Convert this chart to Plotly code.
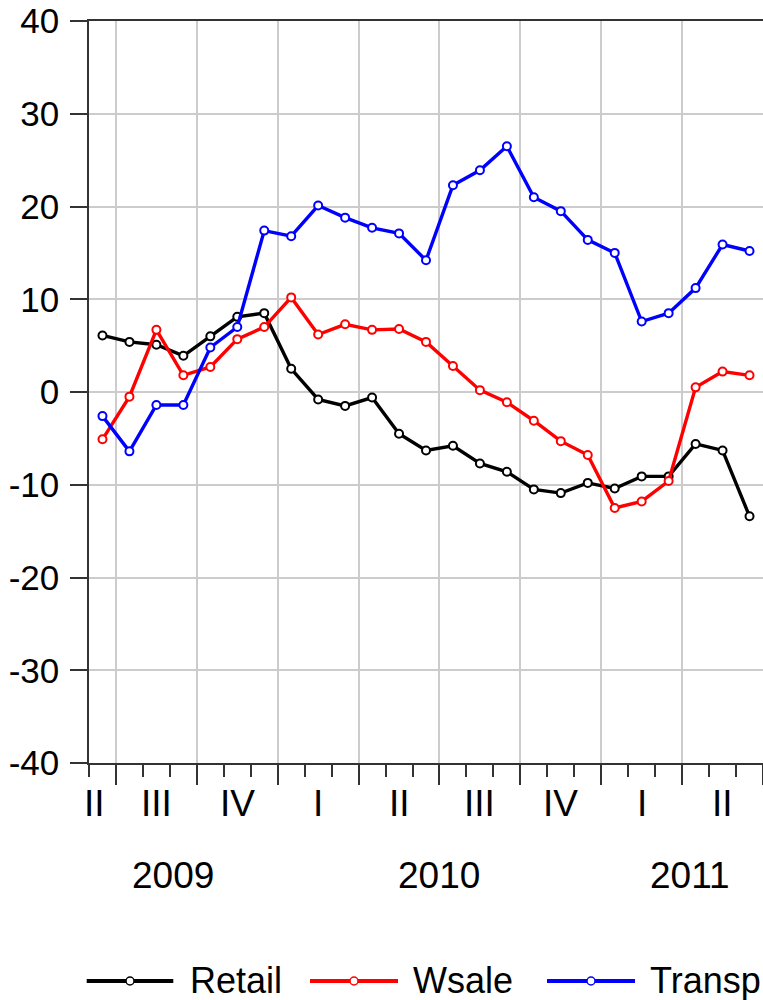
import plotly.graph_objects as go

# ---- data (monthly, Jun 2009 .. Jun 2011) ----
months = ["2009-06", "2009-07", "2009-08", "2009-09", "2009-10", "2009-11", "2009-12",
          "2010-01", "2010-02", "2010-03", "2010-04", "2010-05", "2010-06",
          "2010-07", "2010-08", "2010-09", "2010-10", "2010-11", "2010-12",
          "2011-01", "2011-02", "2011-03", "2011-04", "2011-05", "2011-06"]

retail = [6.1, 5.4, 5.1, 3.9, 6.0, 8.1, 8.5, 2.5, -0.8, -1.5, -0.6, -4.5, -6.3,
          -5.8, -7.7, -8.6, -10.5, -10.9, -9.8, -10.4, -9.1, -9.1, -5.6, -6.3, -13.4]
wsale = [-5.1, -0.5, 6.7, 1.8, 2.7, 5.7, 7.0, 10.2, 6.2, 7.3, 6.7, 6.8, 5.4,
         2.8, 0.2, -1.1, -3.1, -5.3, -6.8, -12.5, -11.8, -9.6, 0.5, 2.2, 1.8]
transp = [-2.6, -6.4, -1.4, -1.4, 4.8, 7.0, 17.4, 16.8, 20.1, 18.8, 17.7, 17.1, 14.2,
          22.3, 23.9, 26.5, 21.0, 19.5, 16.4, 15.0, 7.6, 8.5, 11.2, 15.9, 15.2]

series_names = ["Retail", "Wsale", "Transp"]
series_colors = ["#000000", "#ff0000", "#0000ff"]

quarter_labels = ["II", "III", "IV", "I", "II", "III", "IV", "I", "II"]
quarter_pos = [-0.28, 2, 5, 8, 11, 14, 17, 20, 23]
quarter_bounds = [0.5, 3.5, 6.5, 9.5, 12.5, 15.5, 18.5, 21.5, 24.5]
year_labels = ["2009", "2010", "2011"]
year_pos = [2.6, 12.5, 21.8]

y_ticks = [-40, -30, -20, -10, 0, 10, 20, 30, 40]

x = list(range(len(months)))

fig = go.Figure()
for name, vals, col in zip(series_names, [retail, wsale, transp], series_colors):
    fig.add_trace(go.Scatter(
        x=x, y=vals, name=name, mode="lines+markers", showlegend=False,
        customdata=months,
        line=dict(color=col, width=3.4),
        marker=dict(symbol="circle", size=8, color="white",
                    line=dict(color=col, width=2)),
        cliponaxis=False,
    ))

OFF = 0  # page body margin removed by post_script below
W, H = 763 - OFF, 1000 - OFF
L, T = 89 - OFF, 21 - OFF
PLOT_W, PLOT_H = 674, 742
R = W - L - PLOT_W
B = H - T - PLOT_H


def px_x(p):
    """page pixel x -> paper fraction"""
    return (p - OFF - L) / PLOT_W


def px_y(p):
    """page pixel y -> paper fraction"""
    return (T + PLOT_H - (p - OFF)) / PLOT_H


FONT = "Liberation Sans, Arial, sans-serif"
axis_col = "#333333"
grid_col = "#cccccc"

fig.update_layout(
    width=W, height=H,
    margin=dict(l=L, r=R, t=T, b=B, pad=0, autoexpand=False),
    paper_bgcolor="white", plot_bgcolor="white",
    font=dict(family=FONT, color="#000000"),
    xaxis=dict(
        range=[-0.5, 24.5], tickmode="array", tickvals=quarter_bounds,
        showticklabels=False, ticks="outside", ticklen=20, tickwidth=1.5,
        tickcolor=axis_col, showgrid=True, gridcolor=grid_col, gridwidth=1.5,
        zeroline=False, showline=True, linecolor=axis_col, linewidth=1.5,
        mirror=True, automargin=False,
        minor=dict(tickmode="linear", tick0=-0.5, dtick=1, ticks="outside",
                   ticklen=12, tickwidth=1.5, tickcolor=axis_col, showgrid=False),
    ),
    yaxis=dict(
        range=[-40, 40], tickmode="array", tickvals=y_ticks,
        ticktext=[str(v) for v in y_ticks],
        ticks="outside", ticklen=17, tickwidth=1.5, tickcolor=axis_col,
        tickfont=dict(size=35, family=FONT, color="#000000"),
        ticklabelstandoff=4, ticklabeloverflow="allow", automargin=False,
        showgrid=True, gridcolor=grid_col, gridwidth=1.5,
        zeroline=False, showline=True, linecolor=axis_col, linewidth=1.5,
    ),
)

annotations = []
for lab, pos in zip(quarter_labels, quarter_pos):
    annotations.append(dict(x=pos, y=px_y(803.5), xref="x", yref="paper",
                            text=lab, showarrow=False, xanchor="center",
                            yanchor="middle",
                            font=dict(size=37, family=FONT, color="#000000")))
for lab, pos in zip(year_labels, year_pos):
    annotations.append(dict(x=pos, y=px_y(875), xref="x", yref="paper",
                            text=lab, showarrow=False, xanchor="center",
                            yanchor="middle",
                            font=dict(size=37, family=FONT, color="#000000")))

# custom legend (long line samples with a small open circle)
legend_line_px = [(86.7, 173.3), (310, 398), (547, 635)]
legend_text_px = [188, 411, 648]
leg_y = 981
shapes = []
for (a, b), tx, name, col in zip(legend_line_px, legend_text_px, series_names, series_colors):
    shapes.append(dict(type="line", xref="paper", yref="paper",
                       x0=px_x(a), x1=px_x(b), y0=px_y(leg_y), y1=px_y(leg_y),
                       line=dict(color=col, width=4)))
    c = (a + b) / 2
    shapes.append(dict(type="circle", xref="paper", yref="paper",
                       x0=px_x(c - 4), x1=px_x(c + 4),
                       y0=px_y(leg_y + 4), y1=px_y(leg_y - 4),
                       fillcolor="white", line=dict(color=col, width=1.5)))
    annotations.append(dict(x=px_x(tx), y=px_y(leg_y), xref="paper", yref="paper",
                            text=name, showarrow=False, xanchor="left",
                            yanchor="middle",
                            font=dict(size=36, family=FONT, color="#000000")))

fig.update_layout(annotations=annotations, shapes=shapes)

fig.write_html(
    "out.html",
    config={"displayModeBar": False},
    post_script="document.body.style.margin='0';document.body.style.overflow='hidden';",
)
